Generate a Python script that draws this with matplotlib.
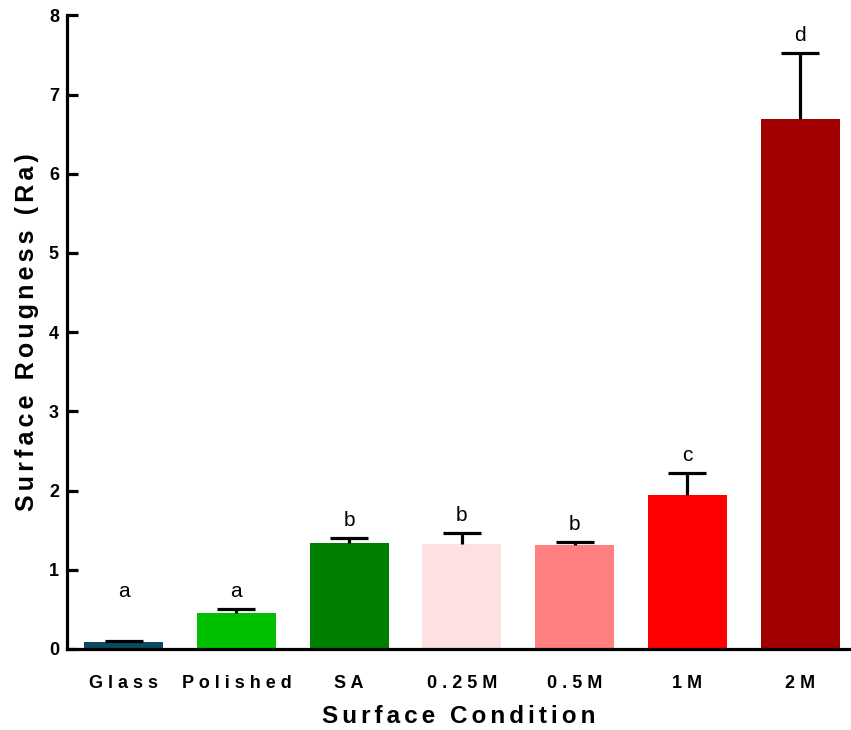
import numpy as np
import matplotlib
matplotlib.use("Agg")
import matplotlib.pyplot as plt

# surface roughness per condition (mean, SD) and the post-hoc grouping letters
conditions = ['Glass', 'Polished', 'SA', '0.25M', '0.5M', '1M', '2M']
ra_mean = [0.09, 0.46, 1.34, 1.33, 1.31, 1.94, 6.69]
ra_sd = [0.015, 0.05, 0.06, 0.14, 0.04, 0.28, 0.83]
groups = ['a', 'a', 'b', 'b', 'b', 'c', 'd']
colors = ['#0b4b62', '#00c000', '#008000', '#fde0e0', '#ff8080', '#ff0000', '#a00000']

plt.rcParams['font.family'] = ['Liberation Sans', 'DejaVu Sans']


def spaced(text, sep='\u2006'):
    # Prism-style wide letter spacing
    return sep.join(text)


fig = plt.figure(figsize=(8.51, 7.30), dpi=100)
ax = fig.add_axes([0.079, 0.111, 0.921, 0.868])

x = np.arange(len(conditions))
mean = np.array(ra_mean)
upper = mean + np.array(ra_sd)
ax.bar(x, mean, width=0.7, color=colors, zorder=2)

# one-sided (upper) error bars, as drawn by Prism
ax.vlines(x, mean, upper, colors='black', linewidth=2.3, zorder=3)
ax.plot(x, upper, linestyle='none', marker='_', markersize=27, markeredgewidth=2.3,
        color='black', zorder=3)

# letters sit above the error caps (kept clear of the axis for tiny bars)
for xi, top, g in zip(x, upper, groups):
    ax.text(xi, max(top, 0.5) + 0.1, g, ha='center', va='bottom', fontsize=15)

ax.set_xlim(-0.5, 6.45)
ax.set_ylim(0, 8)
ax.set_yticks(range(0, 9))
ax.set_xticks(x)
ax.set_xticklabels([spaced(c, ' ') for c in conditions], fontsize=13, fontweight='bold')
ax.tick_params(axis='x', length=0, pad=19)
ax.tick_params(axis='y', direction='in', length=8, width=2.3, labelsize=13, pad=6)
for lab in ax.get_yticklabels():
    lab.set_fontweight('bold')

for side in ['top', 'right']:
    ax.spines[side].set_visible(False)
for side in ['left', 'bottom']:
    ax.spines[side].set_linewidth(2.3)

ax.set_xlabel(spaced('Surface Condition'), fontsize=17.5, fontweight='bold', labelpad=9)
ax.set_ylabel(spaced('Surface Rougness (Ra)'), fontsize=18, fontweight='bold', labelpad=7)

fig.savefig('out.png', dpi=100)
